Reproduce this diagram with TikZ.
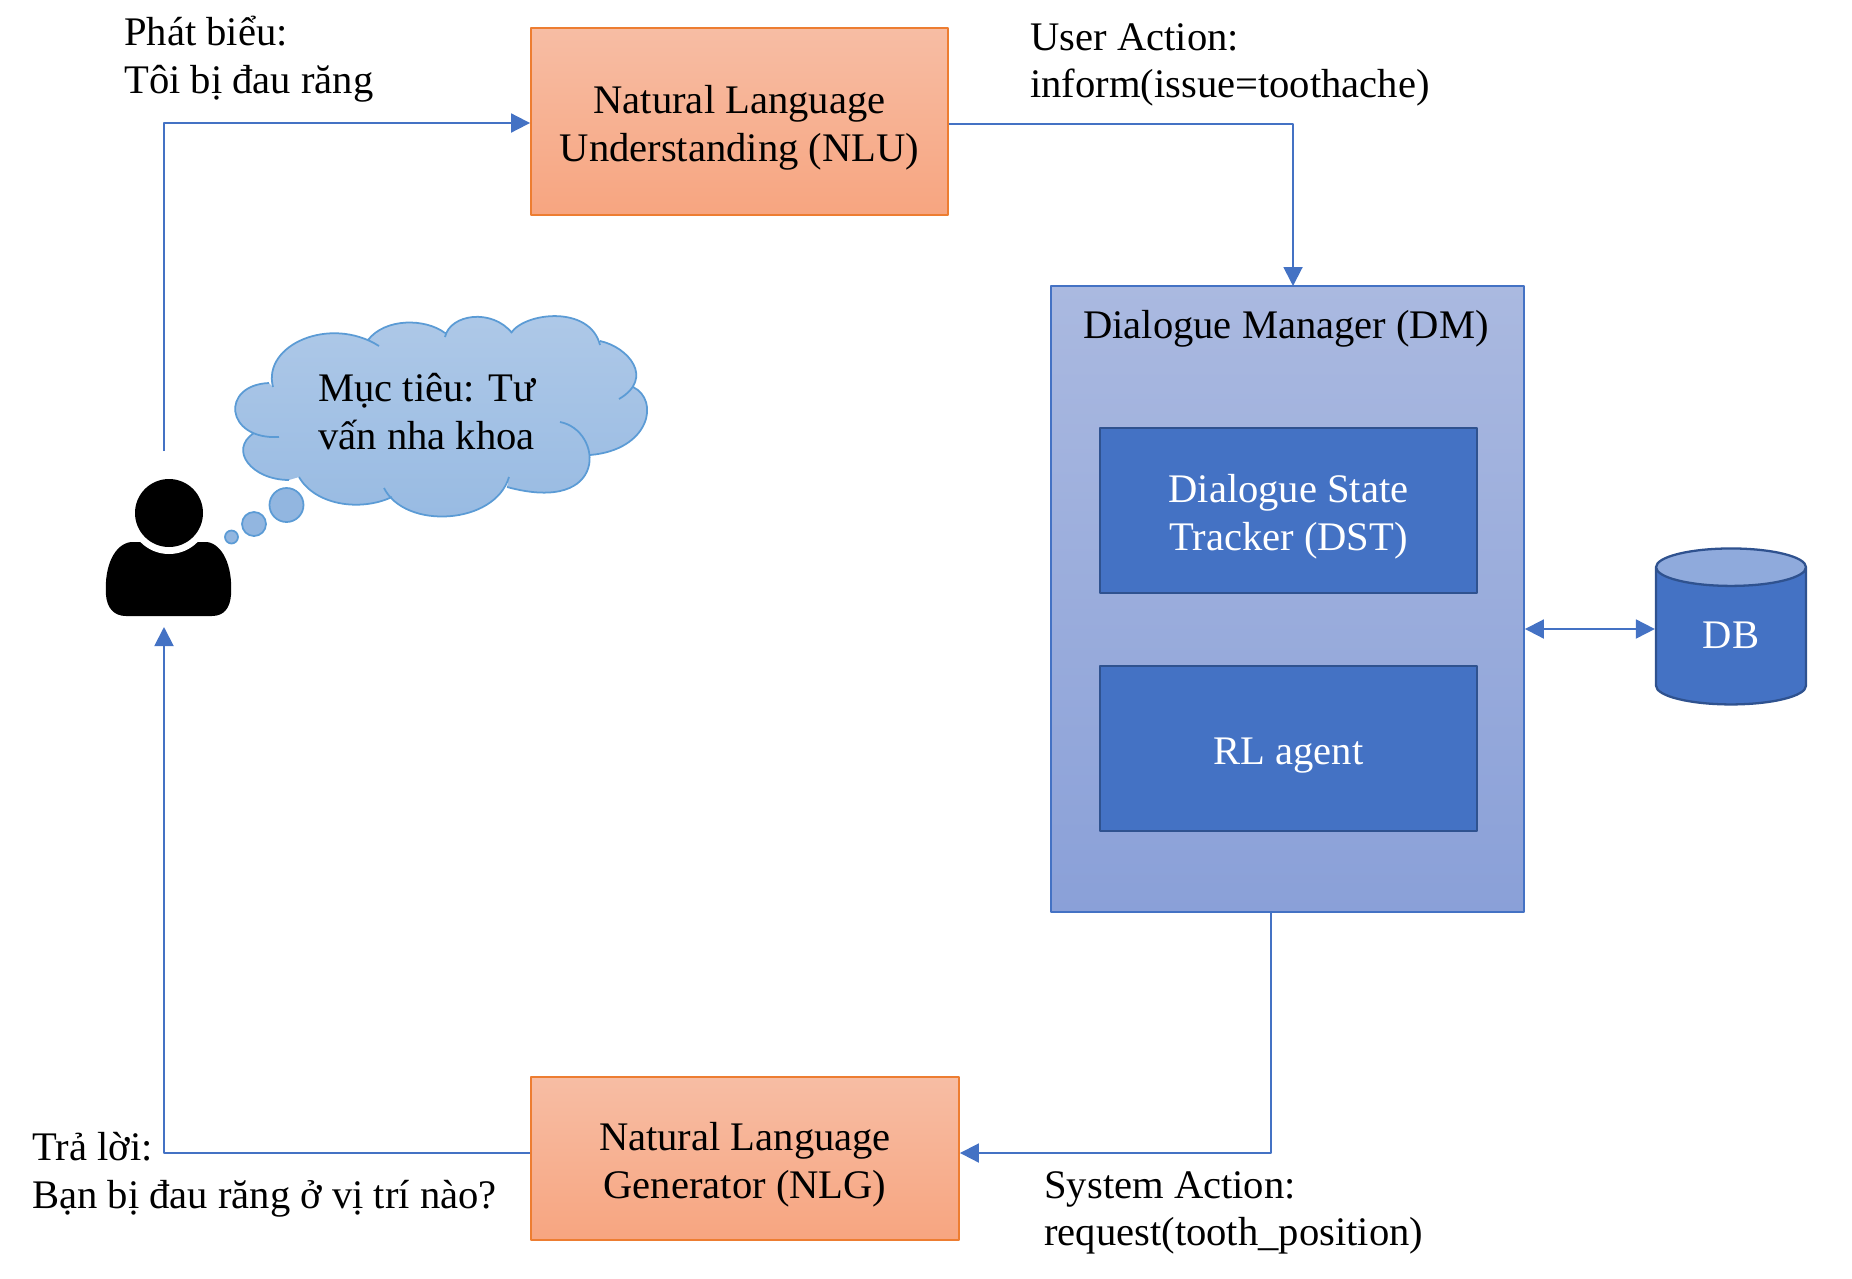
\documentclass[tikz,border=0pt]{standalone}
\usepackage{fontspec}
\setmainfont{Liberation Serif}
\usetikzlibrary{arrows.meta,shapes.geometric}
\definecolor{linkblue}{HTML}{4472C4}
\definecolor{darkblue}{HTML}{2F528F}
\definecolor{cloudline}{HTML}{5B9BD5}
\definecolor{orangeline}{HTML}{ED7D31}
\definecolor{nlutop}{HTML}{F7BDA4}
\definecolor{nlubottom}{HTML}{F7A580}
\definecolor{dmtop}{HTML}{AAB9E0}
\definecolor{dmbottom}{HTML}{8AA0D8}
\definecolor{cloudtop}{HTML}{AFC9E8}
\definecolor{cloudbottom}{HTML}{97BAE2}
\definecolor{bubble}{HTML}{92B6E0}
\definecolor{dbtop}{HTML}{8FAADC}
\tikzset{
	boxfont/.style={font=\fontsize{23.1}{27}\selectfont},
	textlabel/.style={boxfont,align=left,anchor=north west,inner sep=0pt},
	nlbox/.style={draw=orangeline,line width=1.1pt,top color=nlutop,bottom color=nlubottom,boxfont,align=center},
	innerbox/.style={draw=darkblue,line width=1.3pt,fill=linkblue,text=white,minimum width=7.54cm,minimum height=3.3cm,boxfont,align=center},
	link/.style={draw=linkblue,line width=1.1pt,-{Triangle[length=0.38cm,width=0.38cm]}}
}
\newcommand{\topstrut}{\rule{0pt}{23pt}}
\newcommand{\cloudlobes}[1]{
	(273,387) .. controls (262,345) and (330,315) .. (379,346) #1
	(368,340) .. controls (385,318) and (425,318) .. (445,333) #1
	(445,337) .. controls (450,314) and (492,308) .. (512,333) #1
	(511,333) .. controls (525,312) and (590,305) .. (600,345) #1
	(600,341) .. controls (628,347) and (655,378) .. (619,399) #1
	(633,387) .. controls (660,400) and (650,450) .. (590,455) #1
	(560,422) .. controls (603,430) and (610,515) .. (507,487) #1
	(509,477) .. controls (495,525) and (405,530) .. (384,488) #1
	(392,497) .. controls (360,512) and (315,505) .. (299,477) #1
	(289,480) .. controls (252,480) and (228,450) .. (254,433) #1
	(279,437) .. controls (225,440) and (220,385) .. (269,383)
}
\begin{document}
\begin{tikzpicture}[x=0.02cm,y=-0.02cm,line join=round]
	\useasboundingbox (0,0) rectangle (1852,1278);
	\node[nlbox,minimum width=8.34cm,minimum height=3.74cm] (nlu) at (739.5,121.5) {\topstrut Natural Language\\Understanding (NLU)};
	\node[nlbox,minimum width=8.56cm,minimum height=3.26cm] (nlg) at (745,1158.5) {\topstrut Natural Language\\Generator (NLG)};
	\node[draw=linkblue,line width=1.1pt,top color=dmtop,bottom color=dmbottom,minimum width=9.46cm,minimum height=12.52cm] (dm) at (1287.5,599) {};
	\node[boxfont] (dmlabel) at (1286,329) {Dialogue Manager (DM)};
	\node[innerbox] (dst) at (1288.5,510.5) {\topstrut Dialogue State\\Tracker (DST)};
	\node[innerbox] (rl) at (1288.5,748.5) {\topstrut RL agent};
	\node[cylinder,shape border rotate=90,shape aspect=0.55,draw=darkblue,line width=1.3pt,cylinder uses custom fill,cylinder body fill=linkblue,cylinder end fill=dbtop,minimum width=3cm,minimum height=3.12cm,text=white,boxfont] (db) at (1731,640) {\raisebox{5pt}{DB}};
	\coordinate (usertop) at (164,451);
	\coordinate (userbottom) at (164,627);
	\coordinate (nluturn) at (164,123);
	\draw[link] (usertop) -- (nluturn) -- (nlu.west |- nluturn);
	\draw[link] (nlu.east |- 0,124) -- (1293,124) -- (1293,286);
	\draw[link] (1271,912) -- (1271,1153) -- (nlg.east |- 0,1153);
	\draw[link] (nlg.west |- 0,1153) -- (164,1153) -- (userbottom);
	\draw[link,{Triangle[length=0.38cm,width=0.38cm]}-{Triangle[length=0.38cm,width=0.38cm]}] (dm.east |- 0,629) -- (db.west |- 0,629);
	\node[textlabel] (speech) at (124,16) {Phát biểu:\\Tôi bị đau răng};
	\node[textlabel] (useract) at (1030,23) {User Action:\\inform(issue=toothache)};
	\node[textlabel] (reply) at (32,1132) {Trả lời:\\Bạn bị đau răng ở vị trí nào?};
	\node[textlabel] (sysact) at (1044,1171) {System Action:\\request(tooth\_position)};
	\shade[top color=cloudtop,bottom color=cloudbottom] \cloudlobes{--} -- cycle;
	\draw[cloudline,line width=1pt] \cloudlobes{};
	\foreach \i/\j/\r in {286.5/505/17,254/524/12,231.5/537/6.5}{
		\draw[cloudline,line width=1pt,fill=bubble] (\i,\j) circle (\r*0.02cm);}
	\node[textlabel] (goal) at (318,373) {Mục tiêu: Tư\\vấn nha khoa};
	\fill[black] (131,542) .. controls (115,544) and (104,565) .. (106,595) .. controls (107,608) and (114,616) .. (126,616) -- (212,616) .. controls (224,616) and (230,608) .. (231,595) .. controls (233,565) and (222,544) .. (207,542) -- cycle;
	\fill[white] (169,514) circle (40*0.02cm);
	\fill[black] (169,513) circle (34*0.02cm);
\end{tikzpicture}
\end{document}
